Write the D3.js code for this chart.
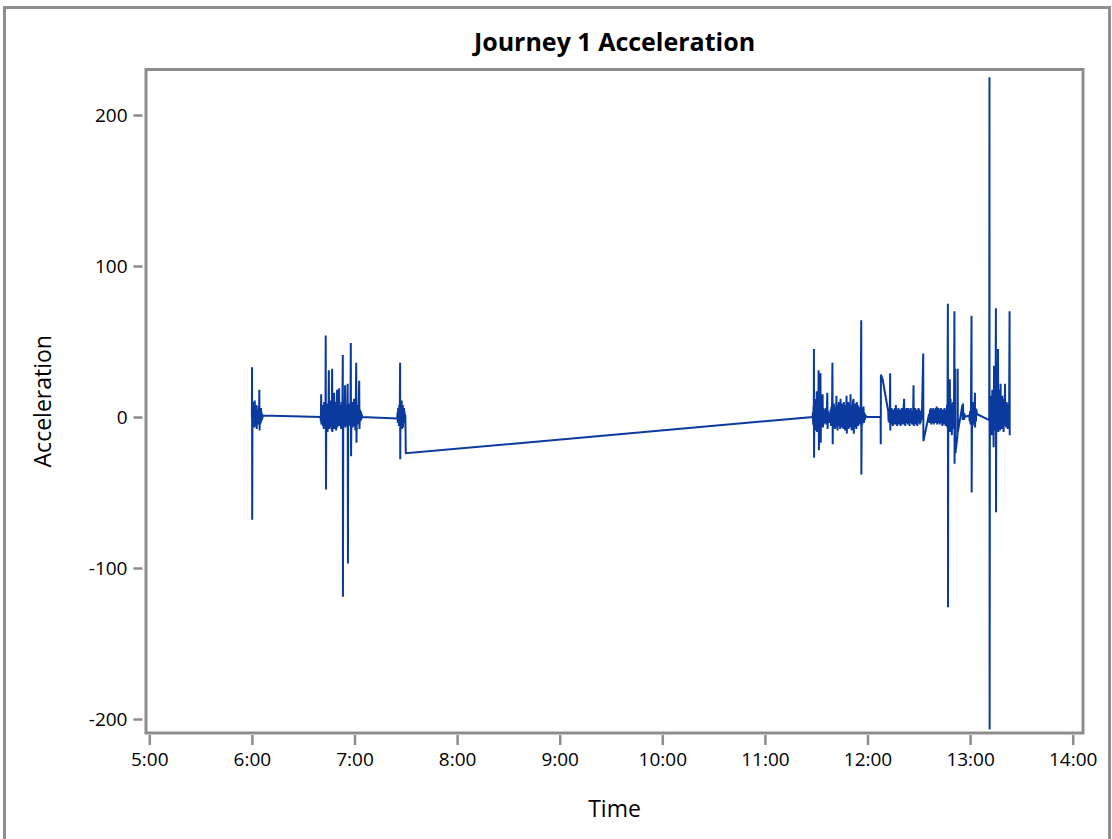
<!DOCTYPE html>
<html>
<head>
<meta charset="utf-8">
<script src="https://cdn.jsdelivr.net/npm/d3@7/dist/d3.min.js"></script>
<style>
  html, body { margin: 0; padding: 0; background: #ffffff; }
  svg { display: block; font-family: "Open Sans", "Noto Sans", sans-serif; }
</style>
</head>
<body>
<svg id="chart" width="1112" height="839"></svg>
<script>
// ---------------- DATA ----------------
const chartTitle = "Journey 1 Acceleration";
const xLabel = "Time";
const yLabel = "Acceleration";
const xTickLabels = ["5:00","6:00","7:00","8:00","9:00","10:00","11:00","12:00","13:00","14:00"];
const yTickValues = [-200, -100, 0, 100, 200];

// [time, acceleration] samples, burst by burst
const burst0600 = [
  ["06:00:00",0],["06:00:05",33],["06:00:10",-68],["06:00:20",2],["06:00:30",-5],["06:00:40",6],
  ["06:00:50",-3],["06:01:00",10],["06:01:10",-4],["06:01:20",5],["06:01:30",-7],["06:01:40",11],
  ["06:01:50",-2],["06:02:00",4],["06:02:10",-6],["06:02:20",3],["06:02:30",-4],["06:02:40",8],
  ["06:02:50",-8],["06:03:00",2],["06:03:10",-3],["06:03:20",5],["06:03:30",-5],["06:03:40",2],
  ["06:03:50",-4],["06:04:00",7],["06:04:10",-2],["06:04:20",18],["06:04:30",-9],["06:04:40",4],
  ["06:04:50",-5],["06:05:00",3],["06:05:10",-4],["06:05:20",6],["06:05:30",-3],["06:05:40",3],
  ["06:05:50",-2],["06:06:00",2],["06:06:10",-1],["06:06:20",1]
];
const burst0640 = [
  ["06:40:10",0],["06:40:20",-3],["06:40:30",15],["06:40:40",-5],["06:40:50",6],["06:41:00",-4],
  ["06:41:15",8],["06:41:30",-6],["06:41:45",4],["06:42:00",-8],["06:42:15",10],["06:42:30",-3],
  ["06:42:45",6],["06:43:00",-7],["06:43:10",54],["06:43:20",-48],["06:43:30",5],["06:43:45",-6],
  ["06:44:00",9],["06:44:15",-10],["06:44:30",7],["06:44:45",-4],["06:45:00",31],["06:45:10",-8],
  ["06:45:25",6],["06:45:40",-5],["06:45:55",11],["06:46:10",-7],["06:46:25",4],["06:46:40",-9],
  ["06:46:55",32],["06:47:05",-10],["06:47:20",8],["06:47:35",-5],["06:47:50",5],["06:48:05",16],
  ["06:48:15",-8],["06:48:30",10],["06:48:45",-6],["06:49:00",7],["06:49:15",-9],["06:49:30",4],
  ["06:49:50",18],["06:50:00",-7],["06:50:15",9],["06:50:30",-5],["06:50:45",6],["06:51:00",19],
  ["06:51:10",-6],["06:51:25",8],["06:51:40",-4],["06:51:55",5],["06:52:10",-8],["06:52:25",10],
  ["06:52:40",-3],["06:52:55",6],["06:53:10",41],["06:53:15",-119],["06:53:25",4],["06:53:40",-6],
  ["06:53:55",9],["06:54:10",-5],["06:54:30",21],["06:54:40",-7],["06:54:55",6],["06:55:10",-4],
  ["06:55:25",8],["06:55:40",-6],["06:56:00",22],["06:56:10",-97],["06:56:20",5],["06:56:35",-3],
  ["06:56:50",9],["06:57:05",-6],["06:57:20",7],["06:57:35",-4],["06:57:50",49],["06:58:00",-26],
  ["06:58:15",8],["06:58:30",-5],["06:58:45",10],["06:59:00",-7],["06:59:15",6],["06:59:30",-4],
  ["06:59:45",12],["07:00:00",-6],["07:00:15",5],["07:00:30",-9],["07:00:45",7],["07:01:00",36],
  ["07:01:10",-17],["07:01:25",6],["07:01:40",-5],["07:01:55",8],["07:02:10",-4],["07:02:25",6],
  ["07:02:45",24],["07:02:55",-8],["07:03:10",5],["07:03:25",-3],["07:03:40",4],["07:03:55",-2],
  ["07:04:10",2],["07:04:30",0]
];
const burst0725 = [
  ["07:25:00",-1],["07:25:10",3],["07:25:20",-4],["07:25:30",6],["07:25:40",-3],["07:25:50",5],
  ["07:26:00",-6],["07:26:10",8],["07:26:20",-5],["07:26:30",4],["07:26:40",36],["07:26:45",-28],
  ["07:26:55",10],["07:27:05",-7],["07:27:15",9],["07:27:25",-6],["07:27:35",11],["07:27:45",-8],
  ["07:27:55",7],["07:28:05",-5],["07:28:15",8],["07:28:25",-7],["07:28:35",5],["07:28:45",-4],
  ["07:28:55",6],["07:29:05",-3],["07:29:15",4],["07:29:25",-2],["07:29:35",2],["07:29:45",0],
  ["07:30:00",-24]
];
const burst1128 = [
  ["11:27:55",0],["11:28:05",3],["11:28:15",-5],["11:28:25",7],["11:28:35",-6],["11:28:40",45],
  ["11:28:45",-27],["11:28:55",9],["11:29:05",-8],["11:29:15",12],["11:29:25",-6],["11:29:35",10],
  ["11:29:45",-9],["11:29:55",8],["11:30:05",-5],["11:30:20",17],["11:30:30",-10],["11:30:40",12],
  ["11:30:50",-7],["11:31:00",9],["11:31:10",-6],["11:31:25",31],["11:31:35",-22],["11:31:45",10],
  ["11:31:55",-6],["11:32:05",8],["11:32:15",-9],["11:32:30",29],["11:32:40",-17],["11:32:50",7],
  ["11:33:00",-5],["11:33:10",9],["11:33:25",-6],["11:33:45",15],["11:33:55",-7],["11:34:10",6],
  ["11:34:25",-5],["11:34:40",4],["11:34:55",-3],["11:35:10",5],["11:35:25",-4],["11:35:40",6],
  ["11:35:55",-5],["11:36:10",3],["11:36:30",16],["11:36:40",-8],["11:36:55",4],["11:37:10",-3],
  ["11:37:25",2],["11:37:40",-4],["11:37:55",3],["11:38:10",-2],["11:38:25",5],["11:38:40",-6],
  ["11:38:55",7],["11:39:10",-5],["11:39:30",36],["11:39:40",-18],["11:39:50",8],["11:40:05",-7],
  ["11:40:20",9],["11:40:35",-5],["11:40:50",6],["11:41:05",-8],["11:41:20",7],["11:41:35",-4],
  ["11:41:50",14],["11:42:00",-7],["11:42:15",6],["11:42:30",-9],["11:42:45",8],["11:43:00",-5],
  ["11:43:15",10],["11:43:30",-6],["11:43:45",7],["11:44:00",-8],["11:44:15",12],["11:44:25",-5],
  ["11:44:40",8],["11:44:55",-7],["11:45:10",9],["11:45:25",-6],["11:45:40",6],["11:45:55",-8],
  ["11:46:10",10],["11:46:25",-5],["11:46:40",7],["11:46:55",-9],["11:47:10",8],["11:47:25",-6],
  ["11:47:45",14],["11:47:55",-11],["11:48:10",9],["11:48:25",-6],["11:48:40",10],["11:48:55",-8],
  ["11:49:10",7],["11:49:25",-5],["11:49:40",9],["11:49:55",-7],["11:50:05",15],["11:50:15",-6],
  ["11:50:30",8],["11:50:45",-9],["11:51:00",7],["11:51:15",-5],["11:51:30",10],["11:51:50",12],
  ["11:52:00",-11],["11:52:15",8],["11:52:30",-6],["11:52:45",9],["11:53:00",-7],["11:53:15",6],
  ["11:53:30",-8],["11:53:45",10],["11:54:00",-5],["11:54:15",8],["11:54:30",-6],["11:54:45",7],
  ["11:55:00",-4],["11:55:15",6],["11:55:30",-5],["11:55:45",5],["11:56:00",-3],["11:56:20",64],
  ["11:56:25",-38],["11:56:40",4],["11:56:55",-5],["11:57:10",6],["11:57:25",-3],["11:57:40",7],
  ["11:57:55",-4],["11:58:10",3],["11:58:25",-2],["11:58:45",1],["11:59:30",0]
];
const burst1207 = [
  ["12:07:40",0],["12:07:45",-18],["12:07:50",28],["12:08:50",25],["12:12:05",4],["12:12:20",-3],
  ["12:12:35",5],["12:12:50",-4],["12:13:05",6],["12:13:15",29],["12:13:20",-9],["12:13:35",5],
  ["12:13:50",-4],["12:14:05",6],["12:14:20",-5],["12:14:35",3],["12:14:50",-6],["12:15:05",5],
  ["12:15:20",-3],["12:15:35",4],["12:15:50",-5],["12:16:05",6],["12:16:20",-4],["12:16:35",8],
  ["12:16:50",-5],["12:17:05",4],["12:17:20",-6],["12:17:35",5],["12:17:50",-3],["12:18:05",6],
  ["12:18:20",-5],["12:18:35",3],["12:18:50",-4],["12:19:05",5],["12:19:20",-6],["12:19:35",4],
  ["12:19:50",-3],["12:20:05",6],["12:20:20",-5],["12:20:35",4],["12:20:50",-4],["12:21:05",5],
  ["12:21:25",12],["12:21:35",-5],["12:21:50",4],["12:22:05",-6],["12:22:20",5],["12:22:35",-3],
  ["12:22:50",6],["12:23:05",-4],["12:23:20",3],["12:23:35",-5],["12:23:50",6],["12:24:05",-3],
  ["12:24:20",4],["12:24:35",-6],["12:24:50",5],["12:25:05",-4],["12:25:20",6],["12:25:35",-3],
  ["12:25:50",4],["12:26:05",-5],["12:26:20",3],["12:26:35",-4],["12:26:55",21],["12:27:05",-6],
  ["12:27:20",5],["12:27:35",-4],["12:27:50",6],["12:28:05",-5],["12:28:20",4],["12:28:35",-3],
  ["12:28:50",5],["12:29:05",-6],["12:29:20",4],["12:29:35",-4],["12:29:50",6],["12:30:05",-3],
  ["12:30:20",5],["12:30:35",-5],["12:30:50",3],["12:31:05",-4],["12:31:20",4],["12:31:35",-2],
  ["12:31:50",2],["12:32:35",42],["12:32:42",-16],["12:36:00",2],["12:36:15",-4],["12:36:30",5],
  ["12:36:45",-3],["12:37:00",6],["12:37:15",-5],["12:37:30",4],["12:37:45",-4],["12:38:00",5],
  ["12:38:15",-3],["12:38:30",6],["12:38:45",-5],["12:39:00",4],["12:39:15",-2],["12:39:30",5],
  ["12:39:45",-4],["12:40:00",6],["12:40:15",-3],["12:40:30",7],["12:40:45",-5],["12:41:00",4],
  ["12:41:15",-4],["12:41:30",6],["12:41:45",-3],["12:42:00",5],["12:42:15",-5],["12:42:30",4],
  ["12:42:45",-3],["12:43:00",6],["12:43:15",-4],["12:43:30",5],["12:43:45",-6],["12:44:00",4],
  ["12:44:15",-3],["12:44:30",5],["12:44:45",-5],["12:45:00",6],["12:45:15",-4],["12:45:30",3],
  ["12:45:45",-6],["12:46:00",5],["12:46:15",-4],["12:46:30",8],["12:46:45",-7]
];
const burst1247 = [
  ["12:47:00",75],["12:47:05",-126],["12:47:15",10],["12:47:30",-8],["12:47:45",14],["12:48:00",-6],
  ["12:48:10",25],["12:48:20",-10],["12:48:35",12],["12:48:50",-7],["12:49:05",9],["12:49:20",-12],
  ["12:49:35",8],["12:49:50",-5],["12:50:05",10],["12:50:20",-8],["12:50:35",6],["12:50:50",70],
  ["12:50:55",-31],["12:51:05",12],["12:51:15",32],["12:51:25",-24],["12:52:40",-12],["12:52:45",32],
  ["12:52:50",-10],["12:55:30",8],["12:55:40",-2],["12:55:50",9],["12:56:00",0],["12:56:15",3],
  ["12:56:30",-2],["12:56:45",2],["12:57:00",0],["12:59:30",1],["12:59:45",-3],["13:00:00",4],
  ["13:00:15",-5],["13:00:30",6],["13:00:50",67],["13:00:55",-50],["13:01:10",8],["13:01:25",-6],
  ["13:01:40",10],["13:01:55",-4],["13:02:10",7],["13:02:25",-5],["13:02:50",16],["13:02:55",-7],
  ["13:03:10",6],["13:03:25",-3],["13:03:40",5],["13:04:00",2]
];
const burst1311 = [
  ["13:11:10",-2],["13:11:20",225],["13:11:25",-207],["13:11:35",8],["13:11:45",-10],["13:12:00",14],
  ["13:12:15",-8],["13:12:30",10],["13:12:45",-12],["13:13:00",18],["13:13:15",-6],["13:13:30",12],
  ["13:13:45",-20],["13:14:00",34],["13:14:10",-9],["13:14:25",15],["13:14:40",-5],["13:14:55",20],
  ["13:15:05",72],["13:15:10",-63],["13:15:20",12],["13:15:35",-8],["13:15:50",30],["13:16:05",-6],
  ["13:16:20",45],["13:16:30",-10],["13:16:45",18],["13:17:00",-7],["13:17:15",12],["13:17:30",-9],
  ["13:17:50",22],["13:18:05",-6],["13:18:20",10],["13:18:35",-8],["13:18:50",14],["13:19:05",-5],
  ["13:19:20",9],["13:19:35",-10],["13:19:50",12],["13:20:05",-6],["13:20:25",22],["13:20:35",-4],
  ["13:20:50",8],["13:21:05",-7],["13:21:20",10],["13:21:35",-5],["13:21:50",9],["13:22:05",-8],
  ["13:22:20",7],["13:22:35",-6],["13:22:50",5],["13:23:05",70],["13:23:10",-12]
];

// ---------------- CHART ----------------
const FONT = "'Open Sans', 'Noto Sans', sans-serif";
const parseTime = d3.timeParse("%H:%M:%S");
const series = [].concat(burst0600, burst0640, burst0725, burst1128, burst1207, burst1247, burst1311)
  .map(d => ({ t: parseTime(d[0]), v: d[1] }));

const svg = d3.select("#chart");
const frame = { left: 146, right: 1083, top: 69.5, bottom: 733 };

// outer border
svg.append("rect").attr("x", 4.5).attr("y", 7.5).attr("width", 1105).attr("height", 900)
  .attr("fill", "#ffffff").attr("stroke", "#8f8f8f").attr("stroke-width", 3);

const x = d3.scaleTime()
  .domain([parseTime("05:00:00"), parseTime("14:00:00")])
  .range([149.3, 1072.7]);
const y = d3.scaleLinear()
  .domain([-208.6, 229.8])
  .range([732, 70]);

svg.append("clipPath").attr("id", "plotclip").append("rect")
  .attr("x", frame.left + 1.5).attr("y", frame.top + 1.5)
  .attr("width", frame.right - frame.left - 3).attr("height", frame.bottom - frame.top - 3);

const line = d3.line().x(d => x(d.t)).y(d => y(d.v));
svg.append("path")
  .datum(series)
  .attr("clip-path", "url(#plotclip)")
  .attr("fill", "none")
  .attr("stroke", "#0b3a9e")
  .attr("stroke-width", 2)
  .attr("d", line);

svg.append("rect")
  .attr("x", frame.left).attr("y", frame.top)
  .attr("width", frame.right - frame.left).attr("height", frame.bottom - frame.top)
  .attr("fill", "none").attr("stroke", "#8c8c8c").attr("stroke-width", 3);

// y axis
const yAxis = d3.axisLeft(y).tickValues(yTickValues).tickSize(9).tickPadding(6)
  .tickFormat(d => String(d));
const gy = svg.append("g").attr("transform", "translate(142.5,0)").call(yAxis);
gy.select(".domain").remove();
gy.selectAll(".tick line").attr("stroke", "#8c8c8c").attr("stroke-width", 2.5);
gy.selectAll(".tick text").attr("fill", "#000").style("font-size", "19px").style("font-family", FONT);

// x axis
const xTicks = xTickLabels.map(s => parseTime(s.padStart(5, "0") + ":00"));
const xAxis = d3.axisBottom(x).tickValues(xTicks).tickSize(10).tickPadding(8)
  .tickFormat((d, i) => xTickLabels[i]);
const gx = svg.append("g").attr("transform", "translate(0,735)").call(xAxis);
gx.select(".domain").remove();
gx.selectAll(".tick line").attr("stroke", "#8c8c8c").attr("stroke-width", 2.5);
gx.selectAll(".tick text").attr("fill", "#000").style("font-size", "19px").style("font-family", FONT);

// title
svg.append("text").attr("x", (frame.left + frame.right) / 2).attr("y", 51)
  .attr("text-anchor", "middle").style("font-size", "25px").style("font-weight", "bold")
  .style("font-family", FONT).attr("fill", "#000")
  .text(chartTitle);

// axis labels
svg.append("text").attr("x", (frame.left + frame.right) / 2).attr("y", 817)
  .attr("text-anchor", "middle").style("font-size", "23px").style("font-family", FONT).attr("fill", "#000")
  .text(xLabel);
svg.append("text")
  .attr("transform", `translate(51,${(frame.top + frame.bottom) / 2}) rotate(-90)`)
  .attr("text-anchor", "middle").style("font-size", "23px").style("font-family", FONT).attr("fill", "#000")
  .text(yLabel);
</script>
</body>
</html>
